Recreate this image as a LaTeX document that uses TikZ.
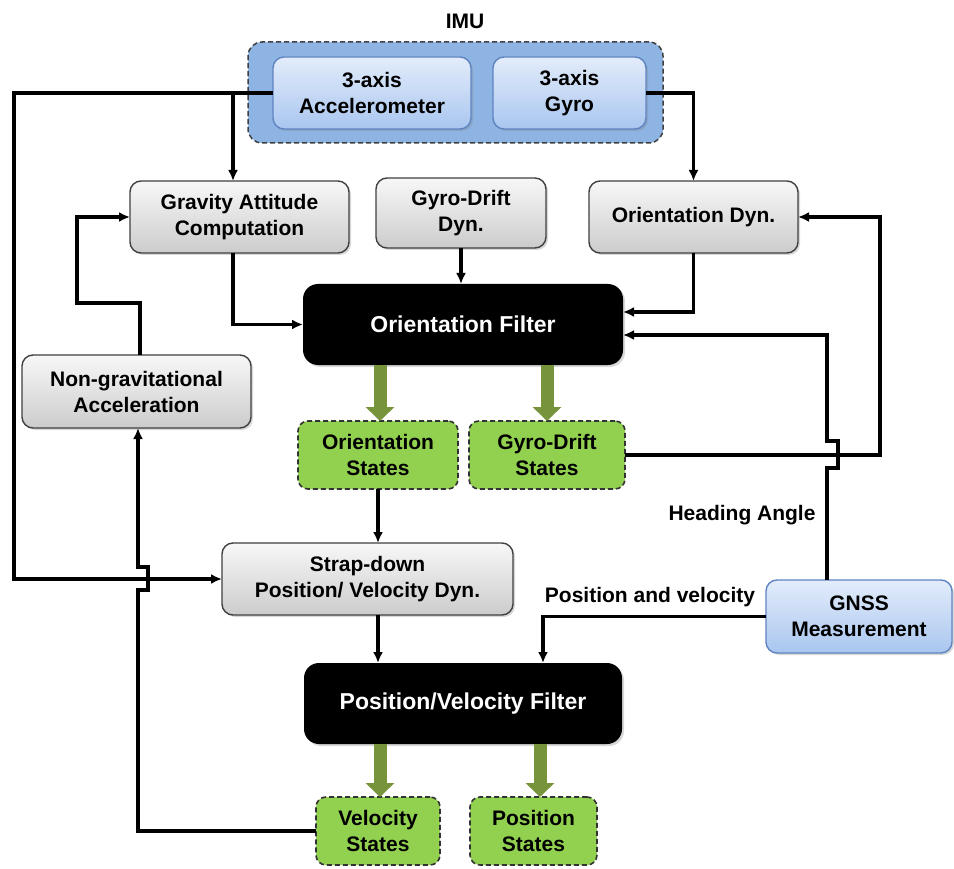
\documentclass[tikz,border=0pt]{standalone}
\usepackage{fontspec}
\setmainfont{Liberation Sans}
\usetikzlibrary{arrows.meta,shadows,calc}
\definecolor{imublue}{HTML}{8DB4E2}
\definecolor{bluetop}{HTML}{E3ECFB}
\definecolor{bluebot}{HTML}{A9C6EF}
\definecolor{blueedge}{HTML}{5F84C2}
\definecolor{greenfill}{HTML}{92D050}
\definecolor{olivearrow}{HTML}{77933C}
\tikzset{
  basebox/.style={align=center, inner sep=0pt, outer sep=0pt, font=\bfseries\fontsize{21}{26}\selectfont},
  greybox/.style={basebox, rounded corners=11pt, draw=black!75, line width=1.4pt,
    top color=gray!6, bottom color=gray!40,
    drop shadow={opacity=0.3, shadow xshift=2pt, shadow yshift=-2pt}},
  bluebox/.style={basebox, rounded corners=11pt, draw=blueedge, line width=1.4pt,
    top color=bluetop, bottom color=bluebot,
    drop shadow={opacity=0.3, shadow xshift=2pt, shadow yshift=-2pt}},
  filterbox/.style={basebox, rounded corners=15pt, fill=black, text=white,
    font=\bfseries\fontsize{23}{28}\selectfont,
    drop shadow={opacity=0.3, shadow xshift=2pt, shadow yshift=-2pt}},
  greenbox/.style={basebox, rounded corners=10pt, fill=greenfill, draw=black!80,
    line width=1.6pt, dash pattern=on 5pt off 3pt},
  imubox/.style={rounded corners=14pt, fill=imublue, draw=black!75, line width=1.5pt,
    dash pattern=on 5pt off 3pt, inner sep=0pt, outer sep=0pt},
  lbl/.style={font=\bfseries\fontsize{21}{26}\selectfont, inner sep=0pt},
  conn/.style={line width=3.3pt, draw=black, -{Latex[length=11pt,width=10pt]}},
  fat/.style={line width=13pt, draw=olivearrow, -{Triangle[width=28pt,length=14pt]}}
}
\begin{document}
\begin{tikzpicture}[x=1pt,y=-1pt]
\useasboundingbox[fill=white] (0,0) rectangle (954,869);

% IMU
\node[imubox, minimum width=415pt, minimum height=101pt] (imu) at (455.5,92.5) {};
\node[lbl] (imulbl) at (465,21) {IMU};
\node[bluebox, minimum width=198pt, minimum height=72pt] (acc) at (372,93) {3-axis\\Accelerometer};
\node[bluebox, minimum width=153pt, minimum height=72pt] (gyro) at (569.5,93) {3-axis\\Gyro};

% grey boxes
\node[greybox, minimum width=219pt, minimum height=72pt] (grav) at (239.5,217) {Gravity Attitude\\Computation};
\node[greybox, minimum width=170pt, minimum height=70pt] (gdd) at (461,213) {Gyro-Drift\\Dyn.};
\node[greybox, minimum width=209pt, minimum height=72pt] (odyn) at (693.5,217) {Orientation Dyn.};
\node[greybox, minimum width=229pt, minimum height=73pt] (nongrav) at (136.5,391.5) {Non-gravitational\\Acceleration};
\node[greybox, minimum width=291pt, minimum height=72pt] (sdyn) at (367.5,579) {Strap-down\\Position/ Velocity Dyn.};

% filters
\node[filterbox, minimum width=320pt, minimum height=81pt] (ofilt) at (463,324.5) {Orientation Filter};
\node[filterbox, minimum width=318pt, minimum height=81pt] (pvf) at (463,703.5) {Position/Velocity Filter};

% states
\node[greenbox, minimum width=160pt, minimum height=68pt] (ost) at (378,455) {Orientation\\States};
\node[greenbox, minimum width=156pt, minimum height=68pt] (gdst) at (547,455) {Gyro-Drift\\States};
\node[greenbox, minimum width=124pt, minimum height=68pt] (vst) at (378,831) {Velocity\\States};
\node[greenbox, minimum width=127pt, minimum height=68pt] (pst) at (533.5,831) {Position\\States};

% GNSS
\node[bluebox, minimum width=186pt, minimum height=73pt] (gnss) at (859,616.5) {GNSS\\Measurement};

% labels
\node[lbl] (headlbl) at (742,515) {Heading Angle};
\node[lbl] (poslbl) at (650,597) {Position and velocity};

% route points
\coordinate (accsplit) at (233,93);
\coordinate (leftrail) at (14,93);
\coordinate (ngup) at (140,303);
\coordinate (ngleft) at (77,303);
\coordinate (rightrail) at (880,455);
\coordinate (vrail) at (138,831);

% connectors
\draw[conn] (acc.west) -- (leftrail) |- (sdyn.west);
\draw[conn] (accsplit) -- (accsplit |- grav.north);
\draw[conn] (gyro.east) -| (odyn.north);
\draw[conn] (accsplit |- grav.south) |- (ofilt.west);
\draw[conn] (gdd.south) -- (gdd.south |- ofilt.north);
\draw[conn] (odyn.south) |- ([yshift=12.5pt]ofilt.east);
\draw[conn] ([xshift=-32pt]gnss.north) -- ++(0,-112) -- ++(11,0) -- ++(0,-27) -- ++(-11,0)
  |- ([yshift=-10.5pt]ofilt.east);
\draw[conn] (gdst.east) -- (rightrail) |- (odyn.east);
\draw[conn] (ngup |- nongrav.north) -- (ngup) -- (ngleft) |- (grav.west);
\draw[conn] (vst.west) -- (vrail) -- ++(0,-241) -- ++(10,0) -- ++(0,-23) -- ++(-10,0)
  -- (vrail |- nongrav.south);
\draw[conn] (ost.south) -- (ost.south |- sdyn.north);
\draw[conn] (ost.south |- sdyn.south) -- (ost.south |- pvf.north);
\draw[conn] (gnss.west) -| ([xshift=80pt]pvf.north);

% fat green arrows
\draw[fat] (ofilt.south -| ost.north) ++(2,0) -- ([xshift=2pt]ost.north);
\draw[fat] (ofilt.south -| gdst.north) -- (gdst.north);
\draw[fat] ([xshift=2pt]pvf.south -| vst.north) -- ([xshift=2pt]vst.north);
\draw[fat] ([xshift=6.5pt]pvf.south -| pst.north) -- ([xshift=6.5pt]pst.north);
\end{tikzpicture}
\end{document}
